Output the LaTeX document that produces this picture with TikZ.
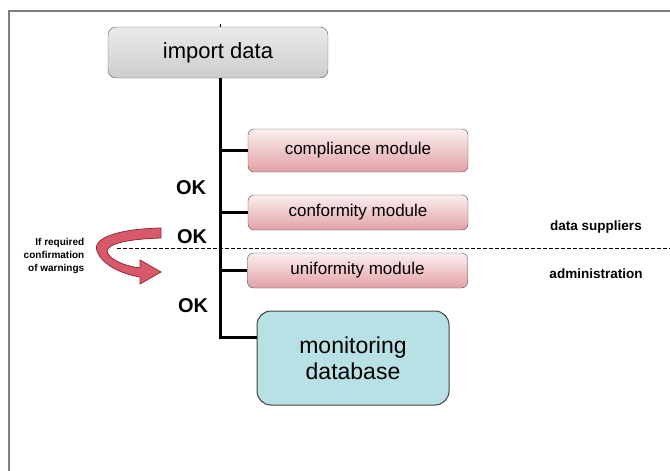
\documentclass[tikz,border=0pt]{standalone}
\usepackage{fontspec}
\setmainfont{Liberation Sans}
\usepackage{tikz}
\usetikzlibrary{calc}
\definecolor{framegray}{HTML}{808080}
\definecolor{importtop}{HTML}{EAEAEA}
\definecolor{importbot}{HTML}{CDCDCD}
\definecolor{moduletop}{HTML}{FBEFEF}
\definecolor{modulebot}{HTML}{E3A1A6}
\definecolor{dbfill}{HTML}{B7E1E4}
\definecolor{arrowred}{HTML}{D9596A}
\definecolor{arrowdark}{HTML}{8E2A37}
\tikzset{
  importbox/.style={draw=black!65, rounded corners=8pt, minimum width=220pt, minimum height=51pt,
    top color=importtop, bottom color=importbot, font=\fontsize{22}{26}\selectfont},
  modulebox/.style={draw=black!70, rounded corners=6pt, minimum width=220pt,
    top color=moduletop, bottom color=modulebot, font=\fontsize{17}{20}\selectfont},
  dbbox/.style={draw=black!75, line width=1pt, rounded corners=14pt, minimum width=192pt, minimum height=94pt,
    fill=dbfill, align=center, font=\fontsize{23}{26}\selectfont},
  oklabel/.style={font=\bfseries\fontsize{20}{22}\selectfont, inner sep=0pt},
  sidelabel/.style={font=\bfseries\fontsize{13.5}{16}\selectfont, inner sep=0pt},
  trunkline/.style={line width=3pt},
  branch/.style={line width=2.5pt}
}

\begin{document}
\begin{tikzpicture}[x=1pt, y=-1pt]
  \useasboundingbox (0,0) rectangle (670,471);
  % frame
  \coordinate (fb) at (9,471);
  \coordinate (fc) at (9,11);
  \coordinate (fr) at (670,11);
  \draw[framegray, line width=2pt] (fb) -- (fc) -- (fr);

  % boxes
  \node[importbox] (import) at (218,52.5) {import data};
  \node[modulebox, minimum height=43pt] (compliance) at (358,150.5) {compliance module};
  \node[modulebox, minimum height=35pt] (conformity) at (358,212.5) {conformity module};
  \node[modulebox, minimum height=35pt] (uniformity) at (357.5,270.5) {uniformity module};
  \node[dbbox] (db) at (353,358) {monitoring\\database};

  % trunk and branches
  \coordinate (bend) at (220,337);
  \draw[line width=1pt] (import.north -| bend) -- ++(0,-3);
  \draw[trunkline] (import.south -| bend) -- (bend) -- (bend -| db.west);
  \draw[branch] (compliance.west -| bend) -- (compliance.west);
  \draw[branch] (conformity.west -| bend) -- (conformity.west);
  \draw[branch] (uniformity.west -| bend) -- (uniformity.west);

  \node[oklabel] (ok1) at (191,188) {OK};
  \node[oklabel] (ok2) at (192,237) {OK};
  \node[oklabel] (ok3) at (193,306) {OK};

  % border between suppliers and administration
  \coordinate (dashL) at (117,248);
  \coordinate (dashR) at (670,248);
  \draw[line width=1pt, dash pattern=on 4pt off 2pt] (dashL) -- (dashR);
  \node[sidelabel] (suppliers) at (596,227) {data suppliers};
  \node[sidelabel] (admin) at (596,273.5) {administration};

  % warnings loop
  \fill[arrowred, draw=arrowdark, line width=0.8pt]
    (161,228) .. controls (118,229) and (92,238) .. (97,251)
    .. controls (102,265) and (122,274) .. (140,277)
    -- (140,284) -- (161,272) -- (140,260) -- (140,268)
    .. controls (124,266) and (108,259) .. (107,251)
    .. controls (108,243) and (130,239) .. (161,238) -- cycle;
  \node[font=\bfseries\fontsize{10}{13}\selectfont, align=right, inner sep=0pt] (warn) at (54,256)
    {If required\\confirmation\\of warnings};
\end{tikzpicture}
\end{document}
